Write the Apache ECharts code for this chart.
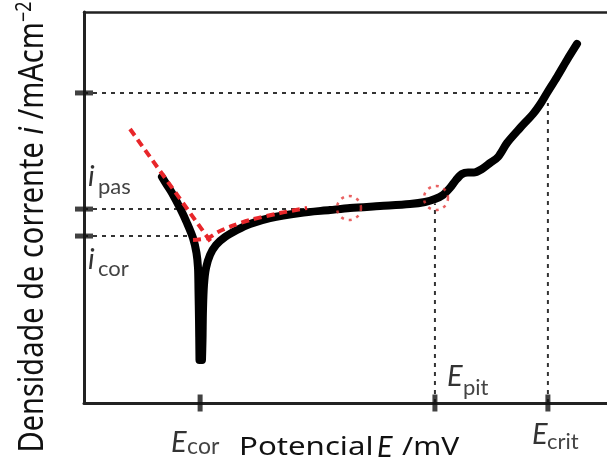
<!DOCTYPE html>
<html>
<head>
<meta charset="utf-8">
<script src="https://cdn.jsdelivr.net/npm/echarts@6/dist/echarts.min.js"></script>
<style>
  html, body { margin: 0; padding: 0; background: #fff; }
  #chart { width: 607px; height: 464px; }
</style>
</head>
<body>
<div id="chart"></div>
<script>
// Polarisation curve: potential E (0–100, arbitrary) vs current density i (0–100, arbitrary)

// Cathodic branch, from high current down to the corrosion potential
const cathodicE = [14.91, 15.87, 16.83, 18.36, 19.69, 20.84, 21.51, 21.80, 21.89, 21.99, 22.08];
const cathodicI = [57.80, 55.75, 53.71, 49.87, 46.04, 42.20, 38.36, 34.53, 28.90, 21.23, 11.00];

// Anodic branch: passive plateau, pitting onset, then breakdown
const anodicE = [22.56, 22.66, 22.75, 22.94, 23.33, 24.09, 25.24, 26.96, 29.25, 31.74, 35.56, 41.30,
                 47.04, 50.86, 56.60, 62.33, 65.20, 67.11, 68.64, 69.98, 71.13, 72.28, 73.42, 74.57,
                 76.10, 77.63, 79.16, 80.88, 83.37, 85.85, 87.38, 88.53, 90.44, 92.35, 94.26];
const anodicI = [11.00, 16.11, 23.79, 30.18, 34.53, 37.85, 40.41, 42.46, 44.25, 45.78, 47.31, 48.59,
                 49.36, 49.87, 50.38, 50.90, 51.41, 52.17, 53.20, 54.99, 57.03, 58.57, 58.95, 58.95,
                 59.85, 61.38, 62.92, 66.50, 70.33, 73.91, 76.73, 79.28, 83.38, 87.72, 91.82];

// Tafel extrapolations
const tafelCathodicE = [8.80, 24.67];
const tafelCathodicI = [70.08, 40.41];
const tafelAnodicE = [20.84, 23.71, 25.62, 28.30, 31.74, 37.48, 42.64];
const tafelAnodicI = [41.69, 42.20, 43.73, 45.27, 46.80, 48.59, 49.87];

// Highlighted points on the curve (passive region, pitting onset)
const markerE = [50.67, 67.30];
const markerI = [49.87, 52.43];

// Characteristic values on the axes
const potentialTickNames = ['cor', 'pit', 'crit'];
const potentialTicks = [22.2, 67.1, 88.7];
const currentTickNames = ['crit', 'pas', 'cor'];
const currentTicks = [79.3, 49.6, 42.7];

const zip = (xs, ys) => xs.map((x, k) => [x, ys[k]]);
const E = name => potentialTicks[potentialTickNames.indexOf(name)];
const I = name => currentTicks[currentTickNames.indexOf(name)];

const guideStyle = { color: '#333', width: 2, type: [4, 5] };
const guide = pts => ({
  type: 'line', data: pts, showSymbol: false, silent: true,
  lineStyle: guideStyle, z: 2
});

const option = {
  animation: false,
  grid: { left: 84, right: 0, top: 12, bottom: 61, containLabel: false, outerBoundsMode: 'none' },
  xAxis: [
    { type: 'value', min: 0, max: 100, position: 'bottom',
      axisLine: { show: true, onZero: false, lineStyle: { color: '#222', width: 3 } },
      axisTick: { show: false }, axisLabel: { show: false }, splitLine: { show: false } },
    { type: 'value', min: 0, max: 100, position: 'top',
      axisLine: { show: true, onZero: false, lineStyle: { color: '#222', width: 2.5 } },
      axisTick: { show: false }, axisLabel: { show: false }, splitLine: { show: false } }
  ],
  yAxis: {
    type: 'value', min: 0, max: 100,
    axisLine: { show: true, onZero: false, lineStyle: { color: '#222', width: 3 } },
    axisTick: { show: false }, axisLabel: { show: false }, splitLine: { show: false }
  },
  series: [
    guide([[0, I('crit')], [E('crit') - 0.2, I('crit')]]),
    guide([[0, I('pas')], [49, I('pas')]]),
    guide([[0, I('cor')], [E('cor'), I('cor')]]),
    guide([[E('pit'), 0], [E('pit'), 51]]),
    guide([[E('crit'), 0], [E('crit'), 76.7]]),
    {
      type: 'line', data: zip(cathodicE, cathodicI), showSymbol: false, smooth: 0.3,
      lineStyle: { color: '#000', width: 8, cap: 'round', join: 'round' }, z: 3
    },
    {
      type: 'line', data: zip(anodicE, anodicI), showSymbol: false, smooth: 0.3,
      lineStyle: { color: '#000', width: 8, cap: 'round', join: 'round' }, z: 3
    },
    {
      type: 'line', data: zip(tafelCathodicE, tafelCathodicI), showSymbol: false,
      lineStyle: { color: '#e8262a', width: 4, type: [8, 5] }, z: 4
    },
    {
      type: 'line', data: zip(tafelAnodicE, tafelAnodicI), showSymbol: false, smooth: 0.3,
      lineStyle: { color: '#e8262a', width: 4, type: [8, 5] }, z: 4
    },
    {
      type: 'scatter', data: zip(markerE, markerI), symbol: 'circle', symbolSize: 24, z: 5,
      itemStyle: { color: 'rgba(0,0,0,0)', borderColor: '#e33b3b', borderWidth: 2.5, borderType: [3, 5] }
    },
    {
      type: 'scatter', data: potentialTicks.map(e => [e, 0]), symbol: 'rect', symbolSize: [5, 17],
      clip: false, z: 6, itemStyle: { color: '#111' }
    },
    {
      type: 'scatter', data: currentTicks.map(i => [0, i]), symbol: 'rect', symbolSize: [18, 5],
      clip: false, z: 6, itemStyle: { color: '#111' }
    }
  ]
};

const chart = echarts.init(document.getElementById('chart'));
chart.setOption(option);

const at = (e, i) => chart.convertToPixel({ gridIndex: 0 }, [e, i]);
const [x0, y0] = at(0, 0);

const txt = (x, y, text, size, family, extra) => Object.assign({
  type: 'text', x, y, z: 100, silent: true,
  style: Object.assign({
    text, fontSize: size, fontFamily: family, fill: '#333',
    align: 'left', verticalAlign: 'middle'
  }, (extra && extra.style) || {})
}, extra && extra.el || {});

const italic = { style: { fontStyle: 'italic' } };
const grey = { style: { fill: '#444' } };
const wide = s => ({ el: { scaleX: 1.2 }, style: Object.assign({ fill: '#111' }, s || {}) });

const pCor = at(E('cor'), 0), pPit = at(E('pit'), 0), pCrit = at(E('crit'), 0);
const qPas = at(0, I('pas')), qCor = at(0, I('cor'));

const graphics = [
  // potential markers
  txt(pCor[0] - 29, y0 + 40, 'E', 29, 'Lato', italic),
  txt(pCor[0] - 13, y0 + 44, 'cor', 23, 'Lato', grey),
  txt(pPit[0] + 12, y0 - 26, 'E', 29, 'Lato', italic),
  txt(pPit[0] + 28, y0 - 15, 'pit', 22, 'Lato', grey),
  txt(pCrit[0] - 16, y0 + 32, 'E', 29, 'Lato', italic),
  txt(pCrit[0] - 1, y0 + 39, 'crit', 22, 'Lato', grey),
  // current markers
  txt(qPas[0] + 4, qPas[1] - 32, 'i', 29, 'Lato', italic),
  txt(qPas[0] + 14, qPas[1] - 22, 'pas', 22, 'Lato', grey),
  txt(qCor[0] + 4, qCor[1] + 24, 'i', 29, 'Lato', italic),
  txt(qCor[0] + 14, qCor[1] + 33, 'cor', 22, 'Lato', grey),
  // x-axis title
  txt(x0 + 155, y0 + 45, 'Potencial', 26, 'Noto Sans', wide()),
  txt(x0 + 293, y0 + 45, 'E', 29, 'Lato', { style: { fontStyle: 'italic', fill: '#111' } }),
  txt(x0 + 318, y0 + 45, '/mV', 25, 'Noto Sans', wide()),
  // y-axis title
  {
    type: 'text', x: 33, y: 227, rotation: Math.PI / 2, scaleY: 1.2, z: 100, silent: true,
    style: {
      text: '{n|Densidade de corrente }{it|i}{n| /mAcm}{sup|−2}',
      fontSize: 29, fontFamily: 'Noto Sans', fill: '#111',
      align: 'center', verticalAlign: 'middle',
      rich: {
        n: { fontSize: 29, fontFamily: 'Noto Sans', fill: '#111', lineHeight: 32 },
        it: { fontSize: 29, fontFamily: 'Noto Sans', fontStyle: 'italic', fill: '#111', lineHeight: 32 },
        sup: { fontSize: 18, fontFamily: 'Noto Sans', fill: '#111', verticalAlign: 'top', lineHeight: 32 }
      }
    }
  }
];

chart.setOption({ graphic: graphics });
</script>
</body>
</html>
